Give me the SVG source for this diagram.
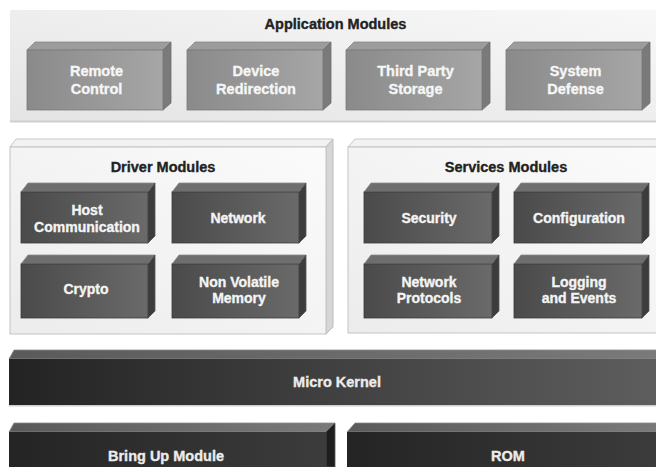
<svg xmlns="http://www.w3.org/2000/svg" width="656" height="467" viewBox="0 0 656 467">
<defs>
<linearGradient id="gPanel" x1="0" y1="1" x2="1" y2="0"><stop offset="0" stop-color="#e4e4e4"/><stop offset="1" stop-color="#f8f8f8"/></linearGradient>
<linearGradient id="gPanel2" x1="0" y1="1" x2="1" y2="0"><stop offset="0" stop-color="#ececec"/><stop offset="1" stop-color="#fbfbfb"/></linearGradient>
<linearGradient id="gApp" x1="0" y1="0" x2="1" y2="0"><stop offset="0" stop-color="#8a8a8a"/><stop offset="1" stop-color="#a6a6a6"/></linearGradient>
<linearGradient id="gDrv" x1="0" y1="0" x2="1" y2="0"><stop offset="0" stop-color="#4a4a4a"/><stop offset="1" stop-color="#6a6a6a"/></linearGradient>
<linearGradient id="gKern" x1="0" y1="0" x2="1" y2="0"><stop offset="0" stop-color="#232323"/><stop offset="1" stop-color="#5e5e5e"/></linearGradient>
<linearGradient id="gBase" x1="0" y1="0" x2="1" y2="0"><stop offset="0" stop-color="#242424"/><stop offset="1" stop-color="#3c3c3c"/></linearGradient>
<linearGradient id="gKTop" x1="0" y1="0" x2="1" y2="0"><stop offset="0" stop-color="#5a5a5a"/><stop offset="1" stop-color="#7a7a7a"/></linearGradient>
</defs>
<style>
text{font-family:"Liberation Sans",Arial,Helvetica,sans-serif;font-weight:bold;text-anchor:middle;stroke-width:0.35px}
.title{font-size:14.5px;fill:#222;stroke:#222}
.lbl{font-size:14.5px;fill:#f6f6f6;stroke:#f6f6f6}
.lbl2{font-size:14px;fill:#f4f4f4;stroke:#f4f4f4}
.klbl{font-size:14.5px;fill:#ececec;stroke:#ececec}
.appF{fill:url(#gApp);stroke:#7a7a7a;stroke-width:0.8}
.appT{fill:#9c9c9c;stroke:#888;stroke-width:0.8}
.appS{fill:#7a7a7a;stroke:#6e6e6e;stroke-width:0.8}
.drvF{fill:url(#gDrv);stroke:#3a3a3a;stroke-width:0.8}
.drvT{fill:#6e6e6e;stroke:#8a8a8a;stroke-width:0.8}
.drvS{fill:#3c3c3c;stroke:#555;stroke-width:0.8}
.panF{fill:url(#gPanel2);stroke:#c4c4c4;stroke-width:1}
.panT{fill:#f2f2f2;stroke:#c8c8c8;stroke-width:1}
.panS{fill:#d6d6d6;stroke:#bdbdbd;stroke-width:1}
.kF{fill:url(#gKern)}
.kT{fill:url(#gKTop);stroke:#8c8c8c;stroke-width:0.8}
.bF{fill:url(#gBase)}
.bS{fill:#1e1e1e;stroke:#555;stroke-width:0.8}
</style>
<rect width="656" height="467" fill="#ffffff"/>

<g id="application-modules">
<rect x="10" y="10" width="650" height="111" fill="url(#gPanel)"/>
<rect x="10" y="120.5" width="650" height="2" fill="#cfcfcf"/>
<text class="title" x="335.5" y="29">Application Modules</text>
</g>

<g id="remote-control">
<polygon class="appT" points="27,50 35,42 171,42 163,50"/>
<polygon class="appS" points="163,50 171,42 171,103 163,110"/>
<rect class="appF" x="27" y="50" width="136" height="60"/>
<text class="lbl" x="96.5" y="76">Remote</text>
<text class="lbl" x="96.5" y="93.5">Control</text>
</g>
<g id="device-redirection">
<polygon class="appT" points="187,50 195,42 331,42 323,50"/>
<polygon class="appS" points="323,50 331,42 331,103 323,110"/>
<rect class="appF" x="187" y="50" width="136" height="60"/>
<text class="lbl" x="256" y="76">Device</text>
<text class="lbl" x="256" y="93.5">Redirection</text>
</g>
<g id="third-party-storage">
<polygon class="appT" points="346,50 354,42 490,42 482,50"/>
<polygon class="appS" points="482,50 490,42 490,103 482,110"/>
<rect class="appF" x="346" y="50" width="136" height="60"/>
<text class="lbl" x="415.5" y="76">Third Party</text>
<text class="lbl" x="415.5" y="93.5">Storage</text>
</g>
<g id="system-defense">
<polygon class="appT" points="506,50 514,42 650,42 642,50"/>
<polygon class="appS" points="642,50 650,42 650,103 642,110"/>
<rect class="appF" x="506" y="50" width="136" height="60"/>
<text class="lbl" x="575.5" y="76">System</text>
<text class="lbl" x="575.5" y="93.5">Defense</text>
</g>

<g id="driver-modules">
<polygon class="panT" points="10,147 16,139 333,139 326,147"/>
<polygon class="panS" points="326,147 333,139 333,327 326,334"/>
<rect class="panF" x="10" y="147" width="316" height="187"/>
<text class="title" x="163" y="172">Driver Modules</text>
</g>

<g id="services-modules">
<polygon class="panT" points="348,147 355,139 660,139 660,147"/>
<rect class="panF" x="348" y="147" width="312" height="186"/>
<text class="title" x="506" y="172">Services Modules</text>
</g>

<g id="host-communication">
<polygon class="drvT" points="21,192 28,183 155,183 148,192"/>
<polygon class="drvS" points="148,192 155,183 155,236 148,243"/>
<rect class="drvF" x="21" y="192" width="127" height="51"/>
<text class="lbl2" x="87" y="215">Host</text>
<text class="lbl2" x="87" y="231.5">Communication</text>
</g>
<g id="network">
<polygon class="drvT" points="172,192 179,183 306,183 299,192"/>
<polygon class="drvS" points="299,192 306,183 306,236 299,243"/>
<rect class="drvF" x="172" y="192" width="127" height="51"/>
<text class="lbl2" x="238" y="222.5">Network</text>
</g>
<g id="crypto">
<polygon class="drvT" points="21,264 28,255 155,255 148,264"/>
<polygon class="drvS" points="148,264 155,255 155,311 148,318"/>
<rect class="drvF" x="21" y="264" width="127" height="54"/>
<text class="lbl2" x="86" y="293.5">Crypto</text>
</g>
<g id="non-volatile-memory">
<polygon class="drvT" points="172,264 179,255 306,255 299,264"/>
<polygon class="drvS" points="299,264 306,255 306,311 299,318"/>
<rect class="drvF" x="172" y="264" width="127" height="54"/>
<text class="lbl2" x="239" y="286.5">Non Volatile</text>
<text class="lbl2" x="239" y="303">Memory</text>
</g>

<g id="security">
<polygon class="drvT" points="364,192 371,183 499,183 492,192"/>
<polygon class="drvS" points="492,192 499,183 499,236 492,243"/>
<rect class="drvF" x="364" y="192" width="128" height="51"/>
<text class="lbl2" x="429" y="222.5">Security</text>
</g>
<g id="configuration">
<polygon class="drvT" points="514,192 521,183 649,183 642,192"/>
<polygon class="drvS" points="642,192 649,183 649,236 642,243"/>
<rect class="drvF" x="514" y="192" width="128" height="51"/>
<text class="lbl2" x="579" y="222.5">Configuration</text>
</g>
<g id="network-protocols">
<polygon class="drvT" points="364,264 371,255 499,255 492,264"/>
<polygon class="drvS" points="492,264 499,255 499,311 492,318"/>
<rect class="drvF" x="364" y="264" width="128" height="54"/>
<text class="lbl2" x="429" y="286.5">Network</text>
<text class="lbl2" x="429" y="303">Protocols</text>
</g>
<g id="logging-and-events">
<polygon class="drvT" points="514,264 521,255 649,255 642,264"/>
<polygon class="drvS" points="642,264 649,255 649,311 642,318"/>
<rect class="drvF" x="514" y="264" width="128" height="54"/>
<text class="lbl2" x="579" y="286.5">Logging</text>
<text class="lbl2" x="579" y="303">and Events</text>
</g>

<g id="micro-kernel">
<polygon class="kT" points="9,359 14,350 660,350 660,359"/>
<rect class="kF" x="9" y="359" width="651" height="46"/>
<rect x="9" y="405" width="651" height="1.5" fill="#cfcfcf"/>
<text class="klbl" x="337" y="387">Micro Kernel</text>
</g>

<g id="bring-up-module">
<polygon class="kT" points="9,432 14,423 335,423 326,432"/>
<polygon class="bS" points="326,432 335,423 335,467 326,467"/>
<rect class="bF" x="9" y="432" width="317" height="40"/>
<text class="klbl" x="166" y="461">Bring Up Module</text>
</g>

<g id="rom">
<polygon class="kT" points="347,432 355,423 660,423 660,432"/>
<rect class="bF" x="347" y="432" width="313" height="40"/>
<text class="klbl" x="508" y="461">ROM</text>
</g>

<g id="connectors"/>
</svg>
